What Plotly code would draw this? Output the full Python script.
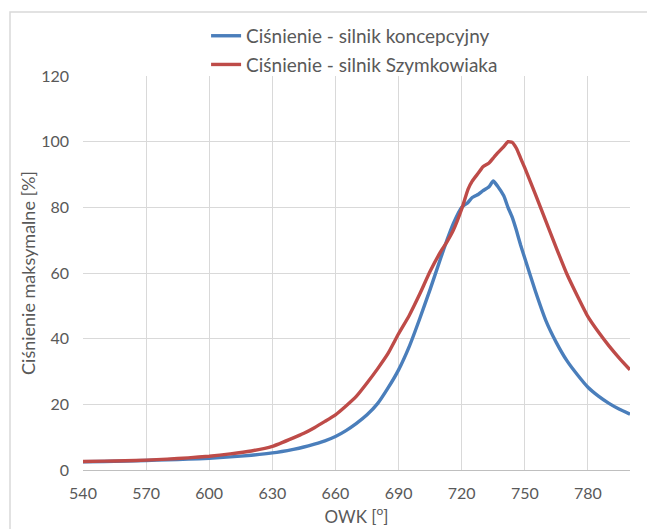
import plotly.graph_objects as go

owk = [540, 550, 560, 570, 580, 590, 600, 610, 620, 630, 640, 645, 650, 655, 660, 665, 670, 675, 680, 685,
       690, 695, 700, 705, 710, 713, 716, 720, 723, 725, 728, 730, 733, 735, 737, 740, 742, 744, 746, 748,
       750, 755, 760, 765, 770, 775, 780, 785, 790, 795, 800]

cisnienie_koncepcyjny = [2.5, 2.6, 2.7, 2.9, 3.1, 3.3, 3.6, 4.0, 4.5, 5.2, 6.3, 7.0, 7.9, 8.9, 10.2, 12.0, 14.2, 16.8, 20.2, 25.0,
                         30.5, 37.5, 46.0, 55.0, 64.5, 70.0, 75.0, 80.0, 81.5, 83.0, 84.0, 85.0, 86.3, 88.0, 86.5, 83.5, 80.0, 77.0, 73.0, 68.5,
                         64.5, 54.5, 45.5, 38.8, 33.3, 29.0, 25.2, 22.5, 20.3, 18.5, 17.0]

cisnienie_szymkowiaka = [2.6, 2.7, 2.8, 3.0, 3.3, 3.7, 4.2, 4.9, 5.8, 7.2, 9.8, 11.2, 12.9, 14.8, 16.8, 19.5, 22.5, 26.5, 30.8, 35.5,
                         41.5, 47.0, 53.5, 60.5, 66.5, 69.5, 73.0, 79.5, 85.5, 88.0, 90.5, 92.3, 93.5, 95.0, 96.5, 98.5, 100.0, 99.8, 98.0, 95.0,
                         92.0, 84.0, 75.8, 67.6, 59.7, 53.0, 46.7, 42.0, 37.8, 34.0, 30.5]

series_names = ["Ciśnienie - silnik koncepcyjny", "Ciśnienie - silnik Szymkowiaka"]
series_colors = ["#4A7EBB", "#BE4B48"]

x_ticks = [540, 570, 600, 630, 660, 690, 720, 750, 780]
y_ticks = [0, 20, 40, 60, 80, 100, 120]

FONT = "Lato"
GRAY = "#595959"
GRID = "#D9D9D9"

fig = go.Figure()
for name, vals, col, grp in zip(series_names, [cisnienie_koncepcyjny, cisnienie_szymkowiaka], series_colors, ["a", "b"]):
    fig.add_trace(go.Scatter(x=owk, y=vals, mode="lines", name=name, legendgroup=grp,
                             line=dict(color=col, width=3.4, shape="spline", smoothing=0.4)))

fig.update_layout(
    width=647, height=521,
    margin=dict(l=75, r=25, t=68, b=59, autoexpand=False),
    paper_bgcolor="white", plot_bgcolor="white",
    font=dict(family=FONT, color=GRAY, size=15),
    showlegend=True,
    legend=dict(x=0.225, xanchor="left", y=1.15, yanchor="top", orientation="v",
                tracegroupgap=1, font=dict(size=19, color=GRAY), bgcolor="rgba(0,0,0,0)"),
    xaxis=dict(range=[540, 800], tickvals=x_ticks, showgrid=True, gridcolor=GRID, gridwidth=1,
               showline=True, linecolor="#BFBFBF", linewidth=1, zeroline=False, ticks="",
               ticklabelstandoff=9, automargin=False,
               tickfont=dict(size=16, color=GRAY),
               title=dict(text="OWK [<sup>o</sup>]", font=dict(size=17, color=GRAY), standoff=9)),
    yaxis=dict(range=[0, 120], tickvals=y_ticks, showgrid=True, gridcolor=GRID, gridwidth=1,
               showline=False, zeroline=False, ticks="", ticklabelstandoff=13, automargin=False,
               tickfont=dict(size=16, color=GRAY),
               title=dict(text="Ciśnienie maksymalne [%]", font=dict(size=18, color=GRAY), standoff=0)),
)

# outer chart border
fig.add_shape(type="rect", xref="paper", yref="paper",
              x0=(10 - 83) / 547, x1=(651 - 83) / 547, y0=(470 - 540) / 394, y1=(470 - 12) / 394,
              line=dict(color="#D9D9D9", width=1.5), fillcolor="rgba(0,0,0,0)", layer="below")

fig.write_html("out.html")
